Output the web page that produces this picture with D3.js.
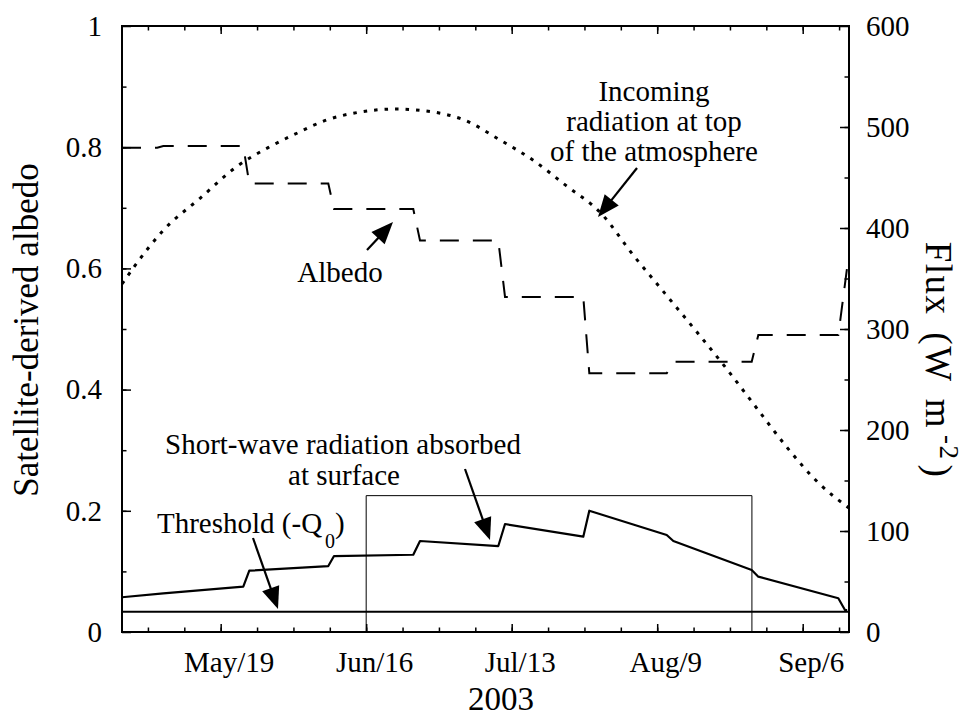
<!DOCTYPE html>
<html>
<head>
<meta charset="utf-8">
<script src="https://cdn.jsdelivr.net/npm/d3@7/dist/d3.min.js"></script>
<style>
  html, body { margin: 0; padding: 0; background: #fff; }
  svg { display: block; }
  text { font-family: "Liberation Serif", "Times New Roman", serif; fill: #000; }
</style>
</head>
<body>
<svg id="chart" width="972" height="719"></svg>
<script>
// ---------- DATA (day of year 2003) ----------
const xMajorTicks = [139, 166.5, 194, 221.5, 249];
const xTickLabels = ["May/19", "Jun/16", "Jul/13", "Aug/9", "Sep/6"];
const leftTicks = [0, 0.2, 0.4, 0.6, 0.8, 1];
const leftTickLabels = ["0", "0.2", "0.4", "0.6", "0.8", "1"];
const rightTicks = [0, 100, 200, 300, 400, 500, 600];
const rightTickLabels = ["0", "100", "200", "300", "400", "500", "600"];

// Satellite-derived albedo (left axis)
const albedoDay = [120.35, 127.0, 128.16, 143.27, 144.41, 159.34, 160.42, 175.4, 176.67, 191.47, 192.74, 207.53, 208.67, 223.3, 224.55, 239.36, 240.61, 255.73, 257.6];
const albedoValue = [0.799, 0.799, 0.802, 0.802, 0.740, 0.740, 0.698, 0.698, 0.646, 0.646, 0.553, 0.553, 0.427, 0.427, 0.446, 0.446, 0.490, 0.490, 0.615];

// Incoming radiation at top of the atmosphere (W m-2, right axis)
const toaDay = [120.35, 122.8, 128.2, 135.1, 142.0, 148.3, 153.4, 159.0, 165.0, 172.0, 179.0, 185.0, 191.8, 198.0, 204.3, 210.9, 217.0, 223.0, 229.0, 234.5, 240.0, 246.0, 252.0, 257.75];
const toaFlux = [344.6, 362.7, 398.0, 429.4, 460.7, 480.5, 493.8, 506.9, 514.5, 517.8, 515.0, 507.0, 487.1, 467.3, 441.9, 414.5, 373.0, 335.0, 297.0, 261.4, 223.8, 183.0, 147.5, 122.8];

// Short-wave radiation absorbed at surface (W m-2, right axis)
const swDay = [120.35, 128.16, 143.27, 144.41, 159.34, 160.42, 175.4, 176.67, 191.47, 192.74, 207.53, 208.67, 223.3, 224.55, 239.36, 240.61, 255.73, 256.99, 257.4];
const swFlux = [34.4, 38.3, 44.9, 60.7, 65.3, 75.2, 76.5, 90.1, 85.1, 106.9, 94.4, 120.1, 96.0, 90.1, 61.4, 54.8, 33.4, 21.8, 21.8];

// Threshold (-Q0), W m-2
const thresholdFlux = [20];
// Highlighted period box: [start day, end day], top flux
const boxDays = [166.5, 239.4];
const boxTopFlux = [135];

// ---------- LAYOUT ----------
const L = 122, R = 849, T = 26, B = 632;
const svg = d3.select("#chart");

const x = d3.scaleLinear().domain([120.35, 257.75]).range([L, R]);
const yL = d3.scaleLinear().domain([0, 1]).range([B, T]);
const yR = d3.scaleLinear().domain([0, 600]).range([B, T]);

const xMinorTicks = d3.range(125.25, 257.7, 6.875);
const leftMinor = d3.range(0.1, 1, 0.1);
const rightMinor = d3.range(50, 600, 50);

function styleAxis(g) {
  g.select(".domain").remove();
  g.selectAll("line").attr("stroke", "#000").attr("stroke-width", 1.5);
  g.attr("font-family", null).attr("font-size", null);
  g.selectAll("text").style("font-family", '"Liberation Serif", "Times New Roman", serif').style("font-size", "29px").attr("fill", "#000");
}

// minor ticks
svg.append("g").attr("transform", `translate(0,${B})`)
  .call(d3.axisBottom(x).tickValues(xMinorTicks).tickSize(-4.5).tickFormat("")).call(styleAxis);
svg.append("g").attr("transform", `translate(0,${T})`)
  .call(d3.axisTop(x).tickValues(xMinorTicks).tickSize(-4.5).tickFormat("")).call(styleAxis);
svg.append("g").attr("transform", `translate(${L},0)`)
  .call(d3.axisLeft(yL).tickValues(leftMinor).tickSize(-4.5).tickFormat("")).call(styleAxis);
svg.append("g").attr("transform", `translate(${R},0)`)
  .call(d3.axisRight(yR).tickValues(rightMinor).tickSize(-4.5).tickFormat("")).call(styleAxis);

// major ticks
const gx = svg.append("g").attr("transform", `translate(0,${B})`)
  .call(d3.axisBottom(x).tickValues(xMajorTicks).tickSize(-8).tickPadding(19.5)
    .tickFormat((d, i) => xTickLabels[i])).call(styleAxis);
gx.selectAll("text").attr("x", 8);
svg.append("g").attr("transform", `translate(0,${T})`)
  .call(d3.axisTop(x).tickValues(xMajorTicks).tickSize(-8).tickFormat("")).call(styleAxis);
svg.append("g").attr("transform", `translate(${L},0)`)
  .call(d3.axisLeft(yL).tickValues(leftTicks).tickSize(-9).tickPadding(20)
    .tickFormat((d, i) => leftTickLabels[i])).call(styleAxis);
svg.append("g").attr("transform", `translate(${R},0)`)
  .call(d3.axisRight(yR).tickValues(rightTicks).tickSize(-9).tickPadding(17)
    .tickFormat((d, i) => rightTickLabels[i])).call(styleAxis);

// ---------- SERIES ----------
// box
svg.append("path")
  .attr("d", `M${x(boxDays[0])},${B} V${yR(boxTopFlux[0])} H${x(boxDays[1])} V${B}`)
  .attr("fill", "none").attr("stroke", "#000").attr("stroke-width", 1);

// threshold
svg.append("line")
  .attr("x1", L).attr("x2", R).attr("y1", yR(thresholdFlux[0])).attr("y2", yR(thresholdFlux[0]))
  .attr("stroke", "#000").attr("stroke-width", 2);

// TOA dotted
const toaLine = d3.line().curve(d3.curveMonotoneX).x(d => x(d[0])).y(d => yR(d[1]));
svg.append("path").datum(toaDay.map((d, i) => [d, toaFlux[i]]))
  .attr("d", toaLine).attr("fill", "none").attr("stroke", "#000")
  .attr("stroke-width", 3).attr("stroke-dasharray", "3.5,7");

// Albedo dashed
const albLine = d3.line().x(d => x(d[0])).y(d => yL(d[1]));
svg.append("path").datum(albedoDay.map((d, i) => [d, albedoValue[i]]))
  .attr("d", albLine).attr("fill", "none").attr("stroke", "#000")
  .attr("stroke-width", 2).attr("stroke-dasharray", "19,14");

// Short-wave absorbed
const swLine = d3.line().x(d => x(d[0])).y(d => yR(d[1]));
svg.append("path").datum(swDay.map((d, i) => [d, swFlux[i]]))
  .attr("d", swLine).attr("fill", "none").attr("stroke", "#000")
  .attr("stroke-width", 2.2).attr("stroke-linejoin", "round");

// frame
svg.append("rect").attr("x", L).attr("y", T).attr("width", R - L).attr("height", B - T)
  .attr("fill", "none").attr("stroke", "#000").attr("stroke-width", 2);

// ---------- ANNOTATIONS ----------
function arrow(x1, y1, x2, y2) {
  const hl = 22, hw = 9;
  const dx = x2 - x1, dy = y2 - y1, len = Math.hypot(dx, dy);
  const ux = dx / len, uy = dy / len;
  const bx = x2 - ux * hl, by = y2 - uy * hl;
  svg.append("line").attr("x1", x1).attr("y1", y1).attr("x2", bx + ux * 2).attr("y2", by + uy * 2)
    .attr("stroke", "#000").attr("stroke-width", 2.2);
  svg.append("path")
    .attr("d", `M${x2},${y2} L${bx - uy * hw},${by + ux * hw} L${bx + uy * hw},${by - ux * hw} Z`)
    .attr("fill", "#000");
}

const annoSize = "29px";
function label(txt, xx, yy, anchor) {
  return svg.append("text").attr("x", xx).attr("y", yy).attr("text-anchor", anchor || "middle")
    .style("font-size", annoSize).text(txt);
}

label("Incoming", 654, 101);
label("radiation at top", 654, 131);
label("of the atmosphere", 654, 161);
arrow(637, 168, 598, 217);

label("Albedo", 340, 282);
arrow(367, 250, 393, 222);

label("Short-wave radiation absorbed", 343, 454);
label("at surface", 344, 485);
arrow(465, 469, 490, 540);

const th = svg.append("text").attr("x", 157).attr("y", 533).style("font-size", annoSize);
th.append("tspan").text("Threshold (-Q");
th.append("tspan").attr("dx", 3).attr("dy", 15).style("font-size", "20px").text("0");
th.append("tspan").attr("dy", -15).text(")");
arrow(253, 538, 278, 609);

// axis titles
svg.append("text").attr("x", 501).attr("y", 710).attr("text-anchor", "middle")
  .style("font-size", "33px").text("2003");
svg.append("text").attr("transform", "translate(38,330) rotate(-90)").attr("text-anchor", "middle")
  .style("font-size", "35px").text("Satellite-derived albedo");
const ft = svg.append("text").attr("transform", "translate(926,360) rotate(90)").attr("text-anchor", "middle")
  .style("font-size", "37px").style("letter-spacing", "1.5px").style("word-spacing", "6px");
ft.append("tspan").text("Flux (W m");
ft.append("tspan").attr("dx", 6).attr("dy", -14).style("font-size", "27px").text("-2");
ft.append("tspan").attr("dx", 4).attr("dy", 14).text(")");
</script>
</body>
</html>
